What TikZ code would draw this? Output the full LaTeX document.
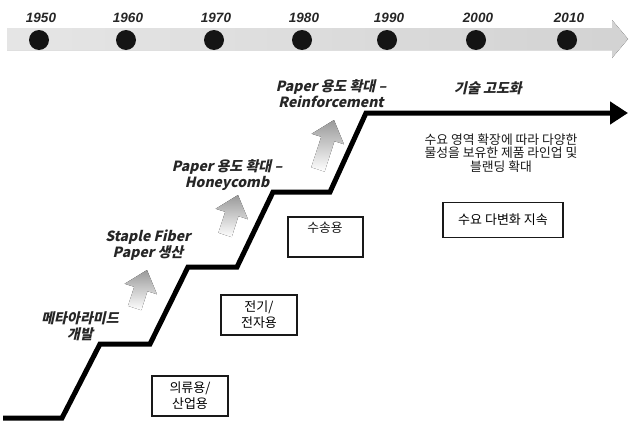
\documentclass[tikz,border=0pt]{standalone}
\usepackage{fontspec}
\usetikzlibrary{arrows.meta}
\newfontfamily\yrfont{Liberation Sans}
\newfontfamily\krfont{Noto Sans CJK KR}
\newfontfamily\krslfont{Noto Sans CJK KR}[FakeSlant=0.22]
\tikzset{
  dotnode/.style={circle,fill=black!92,minimum size=20pt,inner sep=0pt},
  yearnode/.style={font=\yrfont\bfseries\itshape\fontsize{13.5}{15}\selectfont,text=black!85,inner sep=0pt},
  stair/.style={line width=5pt,line join=miter,black,-{Triangle[length=18pt,width=22pt]}},
  lbl/.style={font=\krslfont\bfseries\fontsize{14}{16}\selectfont,text=black!85,align=center,inner sep=0pt},
  body/.style={font=\krfont\fontsize{12.8}{13.8}\selectfont,text=black!90,align=center,inner sep=0pt},
  boxnode/.style={draw=black!90,line width=1.6pt,align=center,font=\krfont\fontsize{13}{16}\selectfont,inner sep=0pt},
  garrow/.style={top color=gray!80,bottom color=white,draw=none}
}
\newcommand{\grayarrow}[3]{%
  \fill[garrow,rotate around={-18:(#1,#2)}] (#1,#2) -- ++(17,20) -- ++(-10,0) -- ++(0,#3) -- ++(-14,0) -- ++(0,-#3) -- ++(-10,0) -- cycle;}
\begin{document}
\begin{tikzpicture}[x=1pt,y=-1pt]
\useasboundingbox (0,0) rectangle (629,423);
\fill[white] (0,0) rectangle (629,423);
% timeline band
\fill[left color=gray!20,right color=gray!35] (7,28) -- (612,28) -- (612,20) -- (628,39) -- (612,58) -- (612,50) -- (7,50) -- cycle;
\foreach \px/\yr in {39/1950,126/1960,214/1970,302/1980,387/1990,476/2000,567/2010}{
  \node[dotnode] (d\yr) at (\px,40) {};
  \node[yearnode] (y\yr) at (\px+2,18) {\yr};
}
% staircase
\coordinate (s0) at (3,418);
\coordinate (s1) at (62,418);
\coordinate (s2) at (100,344);
\coordinate (s3) at (150,344);
\coordinate (s4) at (188,267);
\coordinate (s5) at (237,267);
\coordinate (s6) at (273,192);
\coordinate (s7) at (330,192);
\coordinate (s8) at (366,113);
\coordinate (s9) at (628,113);
\draw[stair] (s0) -- (s1) -- (s2) -- (s3) -- (s4) -- (s5) -- (s6) -- (s7) -- (s8) -- (s9);
% gray arrows
\grayarrow{147}{270}{20}
\grayarrow{238}{195}{22}
\grayarrow{334}{120}{32}
% labels
\node[lbl] (l1) at (80,326) {메타아라미드\\개발};
\node[lbl] (l2) at (148,245) {Staple Fiber\\Paper 생산};
\node[lbl] (l3) at (227,175) {Paper 용도 확대 –\\Honeycomb};
\node[lbl] (l4) at (331,94) {Paper 용도 확대 –\\Reinforcement};
\node[lbl] (l5) at (488,88) {기술 고도화};
\node[body] (t1) at (501,153) {수요 영역 확장에 따라 다양한\\물성을 보유한 제품 라인업 및\\블랜딩 확대};
% boxes
\node[boxnode,minimum width=120pt,minimum height=35pt] (b1) at (503,220) {수요 다변화 지속};
\node[boxnode,minimum width=75pt,minimum height=40pt,anchor=north west] (b2) at (287,216) {};
\node[body] (t2) at (325,228) {수송용};
\node[boxnode,minimum width=76pt,minimum height=40pt] (b3) at (259,315) {전기/\\전자용};
\node[boxnode,minimum width=76pt,minimum height=40pt] (b4) at (190,396) {의류용/\\산업용};
\end{tikzpicture}
\end{document}
